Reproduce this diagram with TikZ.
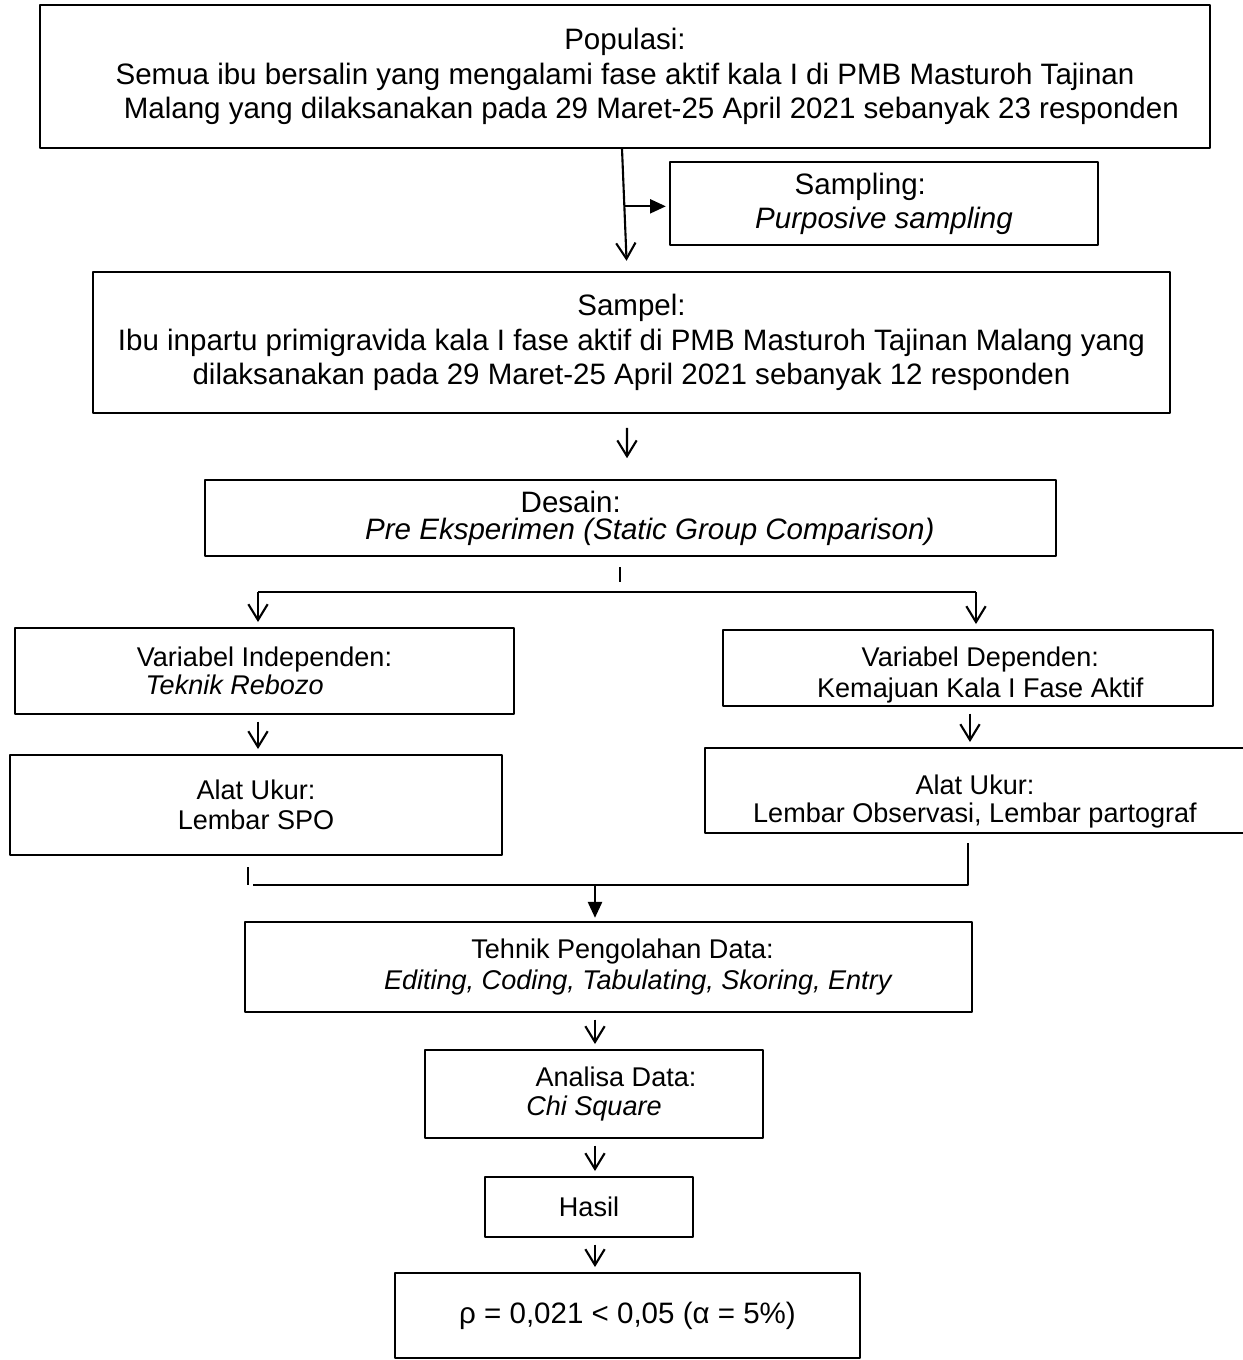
\documentclass[tikz,border=0pt]{standalone}
\usepackage{fontspec}
\setmainfont{Liberation Sans}
\usetikzlibrary{arrows.meta,calc}
\begin{document}
\begin{tikzpicture}[x=0.02cm, y=-0.02cm, line join=round,
	font=\fontsize{16.8}{19.5}\selectfont,
	box/.style={draw, line width=0.8pt, align=center, inner sep=0pt},
	small/.style={font=\fontsize{15.4}{#1}\selectfont},
	arr/.style={line width=1.2pt, -{Straight Barb[length=9pt,width=11pt,line width=1.2pt]}, shorten <=4pt, shorten >=3pt},
	tri/.style={line width=1.2pt, -{Triangle[length=9pt,width=8pt]}, shorten >=2pt},
	lin/.style={line width=1.2pt}]
	\useasboundingbox (0,0) rectangle (1243,1360);
	% kotak-kotak
	\node[box, minimum width=23.4cm, minimum height=2.86cm] (pop) at (625,76.5)
	{Populasi:\\ Semua ibu bersalin yang mengalami fase aktif kala I di PMB Masturoh Tajinan\\
		\hspace*{30pt}Malang yang dilaksanakan pada 29 Maret-25 April 2021 sebanyak 23 responden};
	\node[box, minimum width=8.56cm, minimum height=1.66cm] (samp) at (884,203.5)
	{\hspace*{-27pt}Sampling:\\ \textit{Purposive sampling}};
	\node[box, minimum width=21.54cm, minimum height=2.82cm] (sampel) at (631.5,342.5)
	{Sampel:\\ Ibu inpartu primigravida kala I fase aktif di PMB Masturoh Tajinan Malang yang\\
		dilaksanakan pada 29 Maret-25 April 2021 sebanyak 12 responden};
	\node[box, minimum width=17.02cm, minimum height=1.52cm, font=\fontsize{16.8}{15.5}\selectfont] (desain) at (630.5,518)
	{\hspace*{-68pt}Desain:\\ \hspace*{22pt}\textit{Pre Eksperimen (Static Group Comparison)}};
	\node[box, small=16, minimum width=9.98cm, minimum height=1.72cm] (indep) at (264.5,671)
	{Variabel Independen:\\ \hspace*{-34pt}\textit{Teknik Rebozo}};
	\node[box, small=18, minimum width=9.8cm, minimum height=1.52cm] (dep) at (968,668)
	{\rule{0pt}{19pt}\hspace*{14pt}Variabel Dependen:\\ \hspace*{14pt}Kemajuan Kala I Fase Aktif};
	\node[box, small=17, minimum width=9.84cm, minimum height=2cm] (alatL) at (256,805)
	{Alat Ukur:\\ Lembar SPO};
	\node[box, small=16, minimum width=10.8cm, minimum height=1.7cm] (alatR) at (975,790.5)
	{\rule{0pt}{24pt}Alat Ukur:\\ Lembar Observasi, Lembar partograf};
	\node[box, small=17.5, minimum width=14.54cm, minimum height=1.8cm] (olah) at (608.5,967)
	{\hspace*{16pt}Tehnik Pengolahan Data:\\ \hspace*{34pt}\textit{Editing, Coding, Tabulating, Skoring, Entry}};
	\node[box, small=16, minimum width=6.76cm, minimum height=1.76cm] (analisa) at (594,1094)
	{\hspace*{25pt}Analisa Data:\\ \textit{Chi Square}};
	\node[box, small=16, minimum width=4.16cm, minimum height=1.2cm] (hasil) at (589,1207) {Hasil};
	\node[box, minimum width=9.3cm, minimum height=1.7cm] (res) at (627.5,1315.5)
	{ρ = 0,021 < 0,05 (α = 5\%)};
	% titik bantu
	\path ($(pop.south)!0.47!(sampel.north)$) coordinate (br)
	(620,567) coordinate (t1a) (620,582) coordinate (t1b)
	(258,592) coordinate (sl) (976,592) coordinate (sr)
	(248,867) coordinate (t2a) (248,885) coordinate (t2b)
	(253,885) coordinate (ml) (968,885) coordinate (mr) (595,885) coordinate (mc)
	(968,843) coordinate (rt);
	% panah
	\draw[arr, shorten <=0pt, shorten >=6pt] ([xshift=-0.06cm]pop.south) -- ([xshift=-0.09cm]sampel.north);
	\draw[tri] ([xshift=-0.07cm]br) -- (br -| samp.west);
	\draw[arr, shorten <=8pt, shorten >=12pt] ([xshift=-0.09cm]sampel.south) -- ([xshift=-0.07cm]desain.north);
	\draw[lin] (t1a) -- (t1b);
	\draw[lin] (sl) -- (sr);
	\draw[arr, shorten <=0pt] (sl) -- (sl |- indep.north);
	\draw[arr, shorten <=0pt] (sr) -- (sr |- dep.north);
	\draw[arr] (indep.south -| sl) -- (sl |- alatL.north);
	\draw[arr] (dep.south -| 970,0) -- (alatR.north -| 970,0);
	\draw[lin] (t2a) -- (t2b);
	\draw[lin] (ml) -- (mr) -- (rt);
	\draw[tri] (mc) -- (mc |- olah.north);
	\draw[arr] (olah.south -| mc) -- (mc |- analisa.north);
	\draw[arr] (analisa.south -| mc) -- (mc |- hasil.north);
	\draw[arr] (hasil.south -| mc) -- (mc |- res.north);
\end{tikzpicture}
\end{document}
